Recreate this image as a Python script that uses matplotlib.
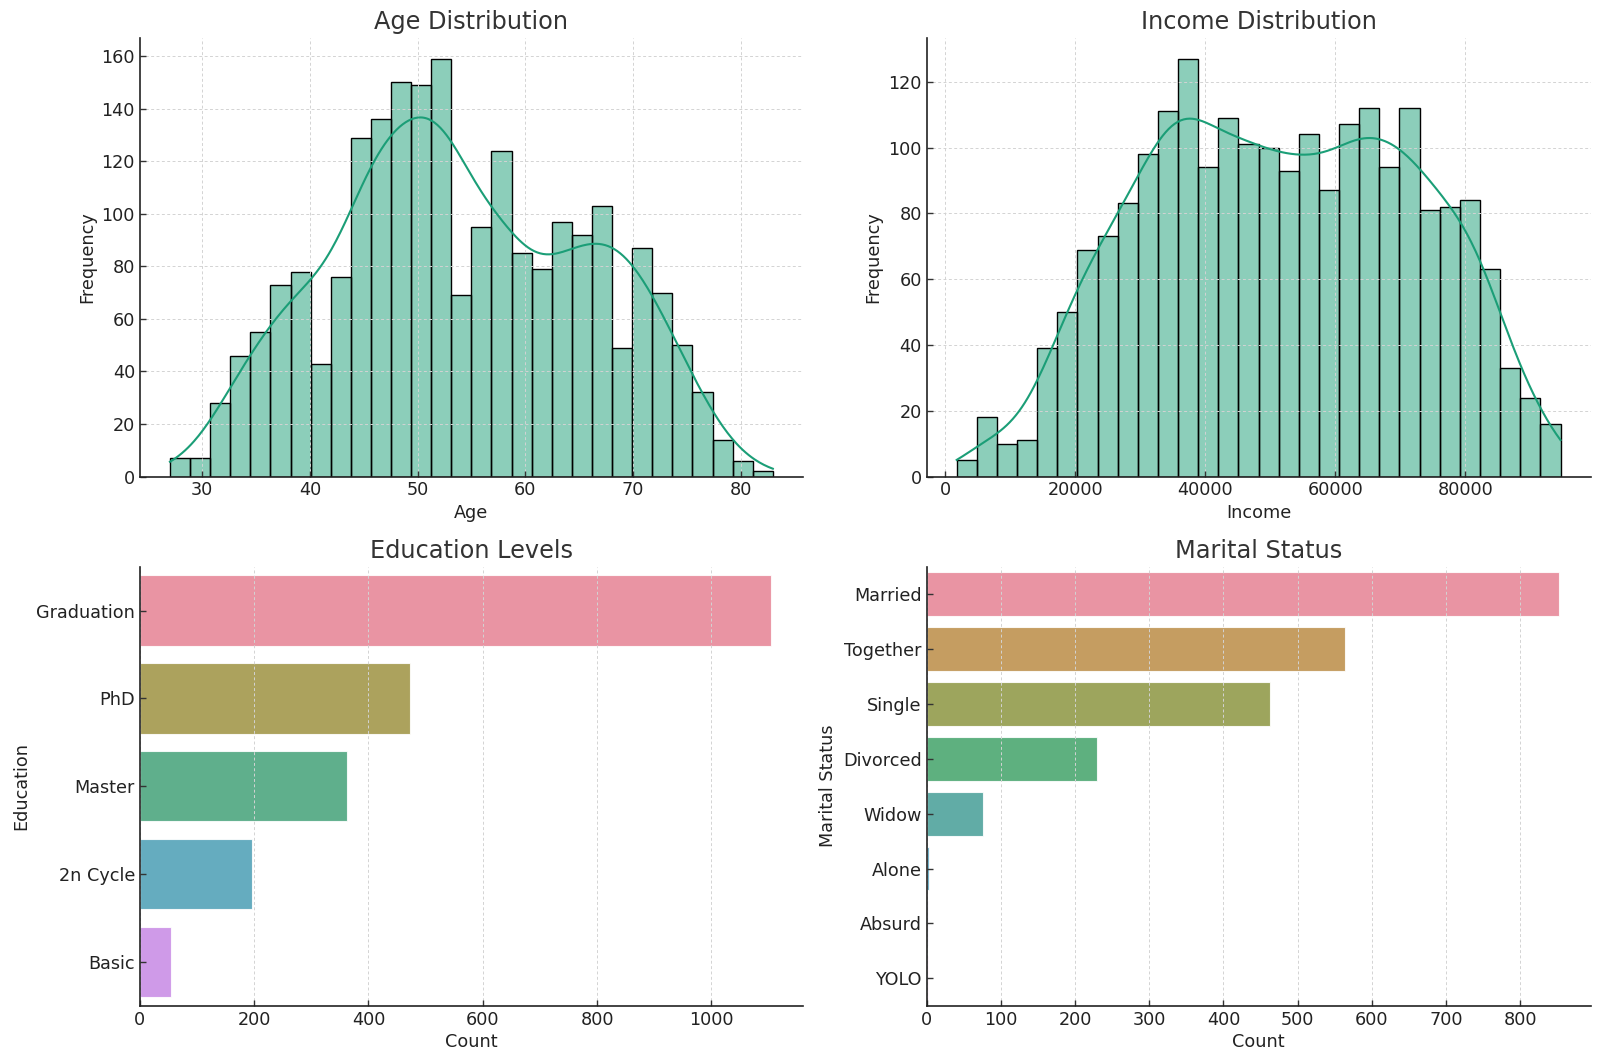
import numpy as np
import matplotlib
matplotlib.use("Agg")
import matplotlib.pyplot as plt
import seaborn as sns

# ---- data ----
age_min, age_max = 27, 83
age_counts = [7, 7, 28, 46, 55, 73, 78, 43, 76, 129, 136, 150, 149, 159, 69,
              95, 124, 85, 79, 97, 92, 103, 49, 87, 70, 50, 32, 14, 6, 2]
income_min, income_max = 1730, 94642
income_counts = [5, 18, 10, 11, 39, 50, 69, 73, 83, 98, 111, 127, 94, 109, 101,
                 100, 93, 104, 87, 107, 112, 94, 112, 81, 82, 84, 63, 33, 24, 16]
education_levels = ["Graduation", "PhD", "Master", "2n Cycle", "Basic"]
education_counts = [1105, 472, 362, 197, 54]
marital_levels = ["Married", "Together", "Single", "Divorced", "Widow", "Alone", "Absurd", "YOLO"]
marital_counts = [852, 564, 462, 229, 76, 3, 2, 2]

DPI = 100
fig = plt.figure(figsize=(16, 10.63), dpi=DPI)
TXT = "#222222"
plt.rcParams.update({
    "font.family": ["DejaVu Sans"],
    "xtick.direction": "in", "ytick.direction": "in",
    "xtick.color": "#333333", "ytick.color": "#333333",
    "xtick.labelcolor": TXT, "ytick.labelcolor": TXT,
})

W, H = 1600, 1063
def pos(l, t, r, b):
    return [l / W, 1 - b / H, (r - l) / W, (b - t) / H]

ax_age = fig.add_axes(pos(139.8, 37.8, 803, 476.5))
ax_inc = fig.add_axes(pos(926.5, 37.8, 1590.7, 476.5))
ax_edu = fig.add_axes(pos(139.8, 566.7, 803, 1005.7))
ax_mar = fig.add_axes(pos(926.5, 566.7, 1590.7, 1005.7))

HIST_COLOR = "#1b9e77"

def kde_hist(ax, lo, hi, counts, integer_values=False):
    counts = np.asarray(counts, float)
    nb = len(counts)
    edges = np.linspace(lo, hi, nb + 1)
    centers = 0.5 * (edges[:-1] + edges[1:])
    bw_bin = edges[1] - edges[0]
    ax.hist(centers, bins=edges, weights=counts, color=HIST_COLOR, alpha=0.5,
            edgecolor="none", zorder=1)
    ax.hist(centers, bins=edges, weights=counts, histtype="bar", fill=False,
            edgecolor="black", linewidth=1.0, zorder=1.5)
    # sample locations for the KDE: bin centres, or the whole numbers inside each bin
    if integer_values:
        pts, wts = [], []
        vals = np.arange(int(lo), int(hi) + 1)
        idx = np.clip(np.searchsorted(edges, vals, side="right") - 1, 0, nb - 1)
        for k in range(nb):
            members = vals[idx == k]
            for v in members:
                pts.append(v)
                wts.append(counts[k] / len(members))
        pts, wts = np.array(pts, float), np.array(wts)
    else:
        pts, wts = centers, counts
    n = wts.sum()
    mean = (pts * wts).sum() / n
    var = (wts * (pts - mean) ** 2).sum() / (n - 1)
    if not integer_values:
        var += bw_bin ** 2 / 12
    bw = np.sqrt(var) * n ** (-1 / 5)
    xs = np.linspace(lo, hi, 400)
    dens = (wts[None, :] * np.exp(-0.5 * ((xs[:, None] - pts[None, :]) / bw) ** 2)).sum(1)
    dens = dens / (n * bw * np.sqrt(2 * np.pi))
    ax.plot(xs, dens * n * bw_bin, color=HIST_COLOR, lw=1.5, zorder=3)

kde_hist(ax_age, age_min, age_max, age_counts, integer_values=True)
kde_hist(ax_inc, income_min, income_max, income_counts)

def countbars(ax, labels, counts):
    pal = sns.color_palette("husl", len(labels))
    cols = [sns.desaturate(c, 0.75) for c in pal]
    y = np.arange(len(labels))
    ax.barh(y, counts, height=0.8, color=cols, alpha=0.85, edgecolor="white",
            linewidth=0.8, zorder=1)
    ax.set_yticks(y)
    ax.set_yticklabels(labels)
    ax.set_ylim(len(labels) - 0.5, -0.5)
    ax.set_xlim(0, max(counts) * 1.05)

countbars(ax_edu, education_levels, education_counts)
countbars(ax_mar, marital_levels, marital_counts)

ax_age.set_xlim(age_min - 0.05 * (age_max - age_min), age_max + 0.05 * (age_max - age_min))
ax_inc.set_xlim(income_min - 0.05 * (income_max - income_min), income_max + 0.05 * (income_max - income_min))
ax_age.set_ylim(0, max(age_counts) * 1.05)
ax_inc.set_ylim(0, max(income_counts) * 1.05)
ax_age.set_yticks(np.arange(0, 161, 20))
ax_inc.set_yticks(np.arange(0, 121, 20))
ax_inc.set_xticks(np.arange(0, 80001, 20000))

FS = 12.7
titles = ["Age Distribution", "Income Distribution", "Education Levels", "Marital Status"]
xlabels = ["Age", "Income", "Count", "Count"]
ylabels = ["Frequency", "Frequency", "Education", "Marital Status"]
grid_axes = ["both", "both", "x", "x"]
for ax, t, xl, yl, ga in zip([ax_age, ax_inc, ax_edu, ax_mar], titles, xlabels, ylabels, grid_axes):
    ax.set_title(t, fontsize=17.3, color="#333333", pad=6)
    ax.set_xlabel(xl, fontsize=FS, color=TXT, labelpad=3)
    ax.set_ylabel(yl, fontsize=FS, color=TXT, labelpad=4)
    ax.tick_params(labelsize=FS, length=4, width=1.0)
    for s in ["top", "right"]:
        ax.spines[s].set_visible(False)
    for s in ["left", "bottom"]:
        ax.spines[s].set_linewidth(1.2)
        ax.spines[s].set_color("#222222")
        ax.spines[s].set_zorder(4)
    ax.set_axisbelow(False)
    ax.grid(True, axis=ga, linestyle=(0, (3, 2.5)), color="#d3d3d3", linewidth=0.7)

fig.savefig("out.png", dpi=DPI)
